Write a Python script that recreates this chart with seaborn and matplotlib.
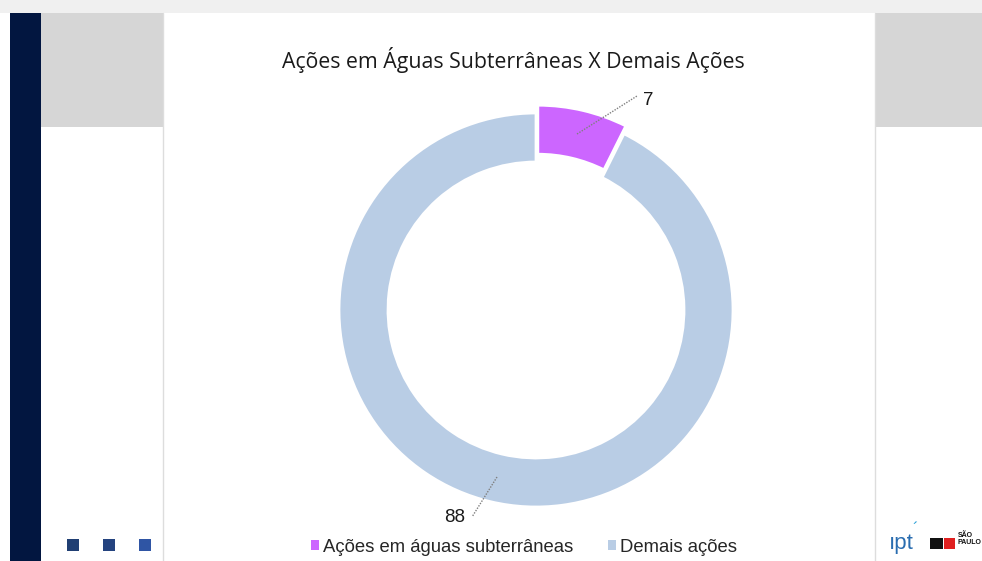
import matplotlib.pyplot as plt
import matplotlib.patches as mpatches
import numpy as np
import seaborn as sns

labels = ["Ações em águas subterrâneas", "Demais ações"]
values = [7, 88]
colors = ["#CC66FF", "#B9CDE5"]
title = "Ações em Águas Subterrâneas X Demais Ações"

W, H = 982, 561

sns.set_theme(style="white")
plt.rcParams["font.family"] = ["Liberation Sans", "DejaVu Sans"]

fig = plt.figure(figsize=(W / 100, H / 100), dpi=100)
fig.patch.set_facecolor("white")
ax = fig.add_axes([0, 0, 1, 1])


def box(x0, y0, x1, y1, color, z=0):
    # rectangle given in image pixel coords (y from top)
    ax.add_patch(mpatches.Rectangle((x0, H - y1), x1 - x0, y1 - y0, facecolor=color,
                                    edgecolor="none", zorder=z))


# slide background pieces
box(0, 0, W, 13, "#F0F0F0")
box(10, 13, 41, H, "#021640")
box(41, 13, 163, 127, "#D6D6D6")
box(875, 13, W, 127, "#D6D6D6")
ax.plot([163.5, 163.5], [0, H - 13], color="#DDDDDD", lw=1, zorder=1)
ax.plot([875.5, 875.5], [0, H - 13], color="#DDDDDD", lw=1, zorder=1)
for x, c in zip([67, 103, 139], ["#203F73", "#24437F", "#2F55A4"]):
    box(x, 539, x + 12, 551, c, z=2)

# donut (explode is in data units here since the axes are in pixels)
cx, cy, r, ring = 536, H - 310, 197, 49
wedges, _ = ax.pie(values, colors=colors, startangle=90, counterclock=False,
                   explode=[8, 0], center=(cx, cy), radius=r,
                   wedgeprops=dict(width=ring, edgecolor="white", linewidth=2))
for w in wedges:
    w.set_zorder(3)

# data labels with dotted leader lines
label_pos = [(648, 100), (455, 518)]
line_start = [(577, 134), (497, 477)]
line_end = [(637, 96), (472, 517)]
for v, (tx, ty), (sx, sy), (ex, ey) in zip(values, label_pos, line_start, line_end):
    ax.plot([sx, ex], [H - sy, H - ey], color="#7F7F7F", lw=1, ls=(0, (1, 1)), zorder=4)
    ax.text(tx, H - ty, str(v), fontsize=13.5, color="#1A1A1A", ha="center", va="center", zorder=5)

ax.text(513, H - 60, title, fontsize=15.3, family=["Open Sans", "DejaVu Sans"],
        color="#1A1A1A", ha="center", va="center")

# legend
handles = [mpatches.Patch(facecolor=c, edgecolor="none") for c in colors]
fig.legend(handles, labels, loc="center", bbox_to_anchor=(524 / W, 1 - 547 / H), ncol=2,
           frameon=False, fontsize=13.3, handlelength=0.45, handleheight=0.45,
           handletextpad=0.2, columnspacing=1.9)

# logos
ax.text(901, H - 543, "ıpt", fontsize=16, color="#2A6DB0", ha="center", va="center")
ax.text(915, H - 530, "´", fontsize=12, color="#2AA0D8", ha="center", va="center")
box(930, 538, 943, 549, "#111111", z=2)
box(944, 538, 955, 549, "#E02020", z=2)
ax.text(958, H - 539, "SÃO\nPAULO", fontsize=5, fontweight="bold", color="#111111",
        ha="left", va="center", linespacing=0.9)

ax.set_xlim(0, W)
ax.set_ylim(0, H)
ax.set_aspect("equal")
ax.axis("off")

fig.savefig("out.png", dpi=100, facecolor="white")
